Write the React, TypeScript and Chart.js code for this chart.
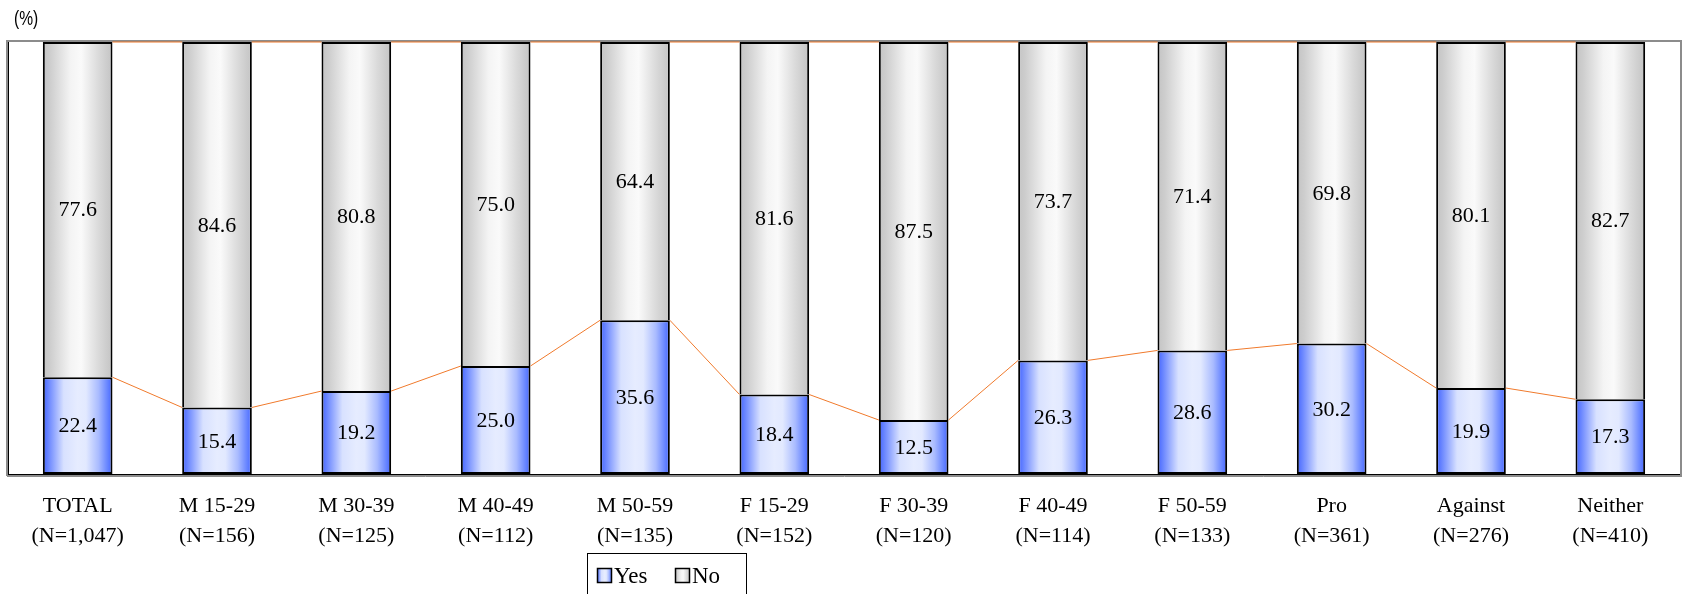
import React, { useEffect, useRef } from "react";
import { Chart, registerables } from "chart.js";

Chart.register(...registerables);

const categories = ["TOTAL", "M 15-29", "M 30-39", "M 40-49", "M 50-59", "F 15-29", "F 30-39", "F 40-49", "F 50-59", "Pro", "Against", "Neither"];
const sampleSizes = ["(N=1,047)", "(N=156)", "(N=125)", "(N=112)", "(N=135)", "(N=152)", "(N=120)", "(N=114)", "(N=133)", "(N=361)", "(N=276)", "(N=410)"];
const yesValues = [22.4, 15.4, 19.2, 25.0, 35.6, 18.4, 12.5, 26.3, 28.6, 30.2, 19.9, 17.3];
const noValues = [77.6, 84.6, 80.8, 75.0, 64.4, 81.6, 87.5, 73.7, 71.4, 69.8, 80.1, 82.7];
const seriesNames = ["Yes", "No"];
const unitLabel = "(%)";

const SERIF = "'Liberation Serif', 'DejaVu Serif', serif";
const BAR_PCT = 0.5;

const blueStops: [number, string][] = [
  [0, "#4565ff"], [0.08, "#6a86ff"], [0.3, "#d8e1ff"], [0.5, "#e6ecff"], [0.62, "#e2e9ff"],
  [0.8, "#a9bbff"], [0.93, "#6684ff"], [1, "#4565ff"],
];
const grayStops: [number, string][] = [
  [0, "#c4c4c4"], [0.1, "#cdcdcd"], [0.4, "#f4f4f4"], [0.55, "#fafafa"], [0.8, "#dadada"],
  [0.93, "#cbcbcb"], [1, "#c4c4c4"],
];

function gradientAt(c: CanvasRenderingContext2D, x0: number, x1: number, stops: [number, string][]) {
  const g = c.createLinearGradient(x0, 0, x1, 0);
  stops.forEach(([o, col]) => g.addColorStop(o, col));
  return g;
}

function barFill(stops: [number, string][]) {
  return (ctx: any) => {
    const chart = ctx.chart;
    const area = chart.chartArea;
    const xs = chart.scales && chart.scales.x;
    if (!area || !xs || ctx.dataIndex === undefined) return stops[0][1];
    const c = xs.getPixelForValue(ctx.dataIndex);
    const half = ((area.width / categories.length) * BAR_PCT) / 2;
    return gradientAt(chart.ctx, c - half, c + half, stops);
  };
}

const framePlugin = {
  id: "frame",
  beforeDatasetsDraw(chart: any) {
    const { ctx, chartArea: a } = chart;
    ctx.save();
    ctx.strokeStyle = "#8c8c8c";
    ctx.lineWidth = 2;
    ctx.strokeRect(a.left - 1, a.top - 1, a.right - a.left + 2, a.bottom - a.top + 2);
    ctx.lineWidth = 1;
    ctx.beginPath();
    ctx.moveTo(a.right + 1.5, a.top);
    ctx.lineTo(a.right + 1.5, a.bottom + 3);
    ctx.moveTo(a.left - 1, a.bottom + 2.5);
    ctx.lineTo(a.right + 2, a.bottom + 2.5);
    ctx.stroke();
    ctx.strokeStyle = "#000";
    ctx.beginPath();
    ctx.moveTo(a.left + 0.5, a.top);
    ctx.lineTo(a.left + 0.5, a.bottom + 1);
    ctx.moveTo(a.left, a.bottom + 0.5);
    ctx.lineTo(a.right, a.bottom + 0.5);
    ctx.stroke();
    ctx.restore();
  },
};

const seriesLinePlugin = {
  id: "seriesLines",
  afterDatasetsDraw(chart: any) {
    const { ctx } = chart;
    ctx.save();
    ctx.strokeStyle = "#f07a2c";
    ctx.lineWidth = 1;
    chart.data.datasets.forEach((_: any, di: number) => {
      const els = chart.getDatasetMeta(di).data;
      for (let j = 0; j < els.length - 1; j++) {
        const a = els[j];
        const b = els[j + 1];
        ctx.beginPath();
        ctx.moveTo(a.x + a.width / 2, a.y);
        ctx.lineTo(b.x - b.width / 2, b.y);
        ctx.stroke();
      }
    });
    ctx.restore();
  },
};

const labelPlugin = {
  id: "valueLabels",
  afterDatasetsDraw(chart: any) {
    const { ctx } = chart;
    ctx.save();
    ctx.fillStyle = "#000";
    ctx.font = `22px ${SERIF}`;
    ctx.textAlign = "center";
    ctx.textBaseline = "middle";
    chart.data.datasets.forEach((ds: any, di: number) => {
      const els = chart.getDatasetMeta(di).data;
      els.forEach((el: any, j: number) => {
        const v = ds.data[j];
        ctx.fillText(Number(v).toFixed(1), el.x, (el.y + el.base) / 2 + 1);
      });
    });
    ctx.restore();
  },
};

const decorPlugin = {
  id: "decor",
  afterDraw(chart: any) {
    const { ctx } = chart;
    ctx.save();
    ctx.fillStyle = "#000";
    ctx.textBaseline = "middle";
    ctx.textAlign = "left";
    ctx.translate(14, 20);
    ctx.scale(0.82, 1.05);
    ctx.font = "19px 'Liberation Sans', Arial, sans-serif";
    ctx.fillText(unitLabel, 0, 0);
    ctx.restore();

    ctx.save();
    const bx = 587, by = 553, bw = 159, bh = 60;
    ctx.fillStyle = "#fff";
    ctx.fillRect(bx, by, bw, bh);
    ctx.strokeStyle = "#000";
    ctx.lineWidth = 1;
    ctx.strokeRect(bx + 0.5, by + 0.5, bw, bh);
    const items = [
      { name: seriesNames[0], stops: blueStops, x: 597 },
      { name: seriesNames[1], stops: grayStops, x: 675 },
    ];
    const sy = 568, sz = 15;
    ctx.font = `23px ${SERIF}`;
    ctx.textBaseline = "middle";
    items.forEach((it) => {
      ctx.fillStyle = gradientAt(ctx, it.x, it.x + sz, it.stops);
      ctx.fillRect(it.x, sy, sz, sz);
      ctx.strokeStyle = "#000";
      ctx.lineWidth = 1.5;
      ctx.strokeRect(it.x + 0.5, sy + 0.5, sz - 1, sz - 1);
      ctx.fillStyle = "#000";
      ctx.fillText(it.name, it.x + sz + 2, sy + sz / 2 + 1);
    });
    ctx.restore();
  },
};

export default function App() {
  const ref = useRef<HTMLCanvasElement | null>(null);
  useEffect(() => {
    let chart: Chart | null = null;
    let cancelled = false;
    const build = () => {
      if (cancelled || !ref.current) return;
      chart = new Chart(ref.current, {
        type: "bar",
        data: {
          labels: categories.map((c, i) => [c, sampleSizes[i]]),
          datasets: [
            {
              label: seriesNames[0],
              data: yesValues,
              backgroundColor: barFill(blueStops),
              borderColor: "#000",
              borderWidth: { left: 2, right: 2, bottom: 2, top: 2 },
              borderSkipped: false,
              barPercentage: BAR_PCT,
              categoryPercentage: 1,
            },
            {
              label: seriesNames[1],
              data: noValues,
              backgroundColor: barFill(grayStops),
              borderColor: "#000",
              borderWidth: { left: 2, right: 2, bottom: 0, top: 2 },
              borderSkipped: false,
              barPercentage: BAR_PCT,
              categoryPercentage: 1,
            },
          ],
        },
        options: {
          responsive: false,
          animation: false,
          layout: { padding: { top: 42, left: 8, right: 3, bottom: 0 } },
          plugins: { legend: { display: false }, tooltip: { enabled: false } },
          scales: {
            x: {
              stacked: true,
              grid: { display: false, drawTicks: false },
              border: { display: false },
              ticks: {
                color: "#000",
                padding: 17,
                maxRotation: 0,
                autoSkip: false,
                font: { family: SERIF, size: 22, lineHeight: 1.36 },
              },
              afterFit: (s: any) => {
                s.height = 120;
              },
            },
            y: {
              stacked: true,
              display: false,
              min: 0,
              max: 100,
            },
          },
        },
        plugins: [framePlugin, seriesLinePlugin, labelPlugin, decorPlugin],
      });
    };
    const fonts: any = (document as any).fonts;
    if (fonts && fonts.load) {
      Promise.all([
        fonts.load("22px 'Liberation Serif'"),
        fonts.load("19px 'Liberation Sans'"),
      ]).then(build, build);
    } else {
      build();
    }
    return () => {
      cancelled = true;
      if (chart) chart.destroy();
    };
  }, []);
  return (
    <div style={{ position: "fixed", left: 0, top: 0, width: 1683, height: 594, background: "#fff" }}>
      <canvas ref={ref} width={1683} height={594} style={{ display: "block" }} />
    </div>
  );
}
